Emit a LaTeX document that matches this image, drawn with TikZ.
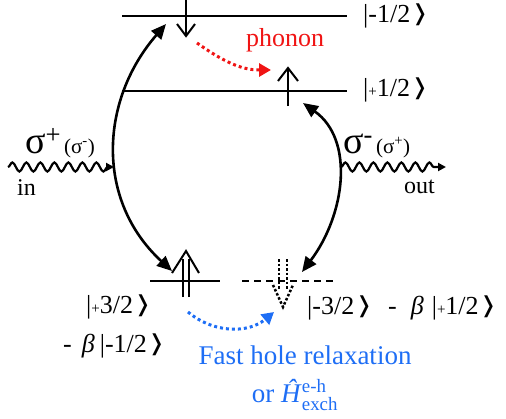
\documentclass[tikz,border=0pt]{standalone}
\usepackage{fontspec}
\usepackage{amsmath}
\setmainfont{Liberation Serif}
\newfontfamily\dejaf{DejaVu Sans}
\usetikzlibrary{arrows.meta,decorations.pathmorphing}
\definecolor{myred}{RGB}{240,20,20}
\definecolor{myblue}{RGB}{30,110,245}
\newcommand{\smp}[1]{{\fontsize{15}{15}\selectfont #1}}
\newcommand{\kt}[1]{|#1\hspace{0.5pt}\raisebox{1.5pt}{\dejaf\fontsize{22}{22}\selectfont ❭}}
\begin{document}
\begin{tikzpicture}[x=1pt,y=-1pt,
  level/.style={line width=2.5pt},
  big/.style={line width=2.6pt,{Triangle[length=15pt,width=13pt]}-{Triangle[length=15pt,width=13pt]}},
  spin/.style={line width=2pt},
  dspin/.style={line width=2.5pt,dash pattern=on 2.5pt off 2pt},
  lbl/.style={font=\fontsize{26}{28}\selectfont,inner sep=0pt,anchor=west},
  wave/.style={line width=2.2pt,decorate,decoration={snake,segment length=14pt,amplitude=4.5pt,post length=6pt},-{Triangle[length=8pt,width=8pt]}},
  txt/.style={inner sep=0pt,font=\fontsize{24}{26}\selectfont}]
\useasboundingbox (0,0) rectangle (506,418);
% levels
\coordinate (t1) at (122,16); \coordinate (t2) at (347,16);
\coordinate (m1) at (122,91); \coordinate (m2) at (347,91);
\coordinate (b1) at (150,281); \coordinate (b2) at (220,281);
\coordinate (d1) at (242,281); \coordinate (d2) at (337,281);
\draw[level] (t1) -- (t2);
\draw[level] (m1) -- (m2);
\draw[level] (b1) -- (b2);
\draw[level,dash pattern=on 7pt off 5pt] (d1) -- (d2);
% top spin down
\coordinate (sa) at (186,0); \coordinate (sb) at (186,36);
\draw[spin] (sa) -- (sb);
\draw[spin] (177,24) -- (sb) -- (195,24);
% middle spin up
\coordinate (ua) at (288,106); \coordinate (ub) at (288,68);
\draw[spin] (ua) -- (ub);
\draw[spin] (278,81) -- (ub) -- (298,81);
% bottom double up
\coordinate (hb) at (186,251);
\draw[spin] (183,297) -- (183,259);
\draw[spin] (189,297) -- (189,259);
\draw[spin] (172,273) -- (hb) -- (199,273);
% dotted double down
\coordinate (hd) at (283,307);
\draw[dspin] (279,259) -- (279,290);
\draw[dspin] (287,259) -- (287,290);
\draw[dspin] (273,285) -- (hd) -- (293,285);
% big arrows
\coordinate (la) at (166,24); \coordinate (lb) at (172,271);
\draw[big] (la) .. controls (100,100) and (95,200) .. (lb);
\coordinate (ra) at (303,103); \coordinate (rb) at (302,272);
\draw[big] (ra) .. controls (355,140) and (345,215) .. (rb);
% waves
\coordinate (w1) at (8,167); \coordinate (w2) at (114,167);
\draw[wave] (w1) -- (w2);
\coordinate (w3) at (341,167); \coordinate (w4) at (446,167);
\draw[wave] (w3) -- (w4);
% phonon
\coordinate (r1) at (197,43); \coordinate (r2) at (271,70);
\draw[myred,line width=3pt,dash pattern=on 3pt off 3pt,-{Triangle[length=12pt,width=13pt]}] (r1) to[out=-35,in=180] (r2);
\node[txt,text=myred,font=\fontsize{26}{28}\selectfont] (ph) at (285,40) {phonon};
% blue relaxation
\coordinate (q1) at (188,312); \coordinate (q2) at (274,312);
\draw[myblue,line width=3pt,dash pattern=on 3pt off 3pt,-{Triangle[length=12pt,width=13pt]}] (q1) to[out=-40,in=-140] (q2);
\node[inner sep=0pt,text=myblue,font=\fontsize{27}{29}\selectfont] (f1) at (305,355) {Fast hole relaxation};
\node[inner sep=0pt,text=myblue,font=\fontsize{27}{29}\selectfont,anchor=base] (f2) at (295,402) {or \textit{Ĥ}$^{\text{e-h}}_{\text{exch}}$};
% kets
\node[lbl] (k1) at (363,16) {\kt{-1/2}};
\node[lbl] (k2) at (363,90) {\kt{\smp{+}1/2}};
\node[lbl] (k3) at (86,307) {\kt{\smp{+}3/2}};
\node[lbl] (k4) at (63,346) {-\hspace{10pt}\textit{β}\hspace{5pt}\kt{-1/2}};
\node[lbl] (k5) at (307,308) {\kt{-3/2}\hspace{15pt}-\hspace{14pt}\textit{β}\hspace{8pt}\kt{\smp{+}1/2}};
% sigma labels
\node[inner sep=0pt,anchor=base west] (s1) at (25,153) {\fontsize{38}{38}\selectfont σ\textsuperscript{+}\hspace{3pt}{\fontsize{21}{21}\selectfont(σ\textsuperscript{-})}};
\node[txt,anchor=base west] (in) at (17,195) {in};
\node[inner sep=0pt,anchor=base west] (s2) at (343,153) {\fontsize{38}{38}\selectfont σ\textsuperscript{-}\hspace{3pt}{\fontsize{21}{21}\selectfont(σ\textsuperscript{+})}};
\node[txt,anchor=base west] (out) at (404,193) {out};
\end{tikzpicture}
\end{document}
